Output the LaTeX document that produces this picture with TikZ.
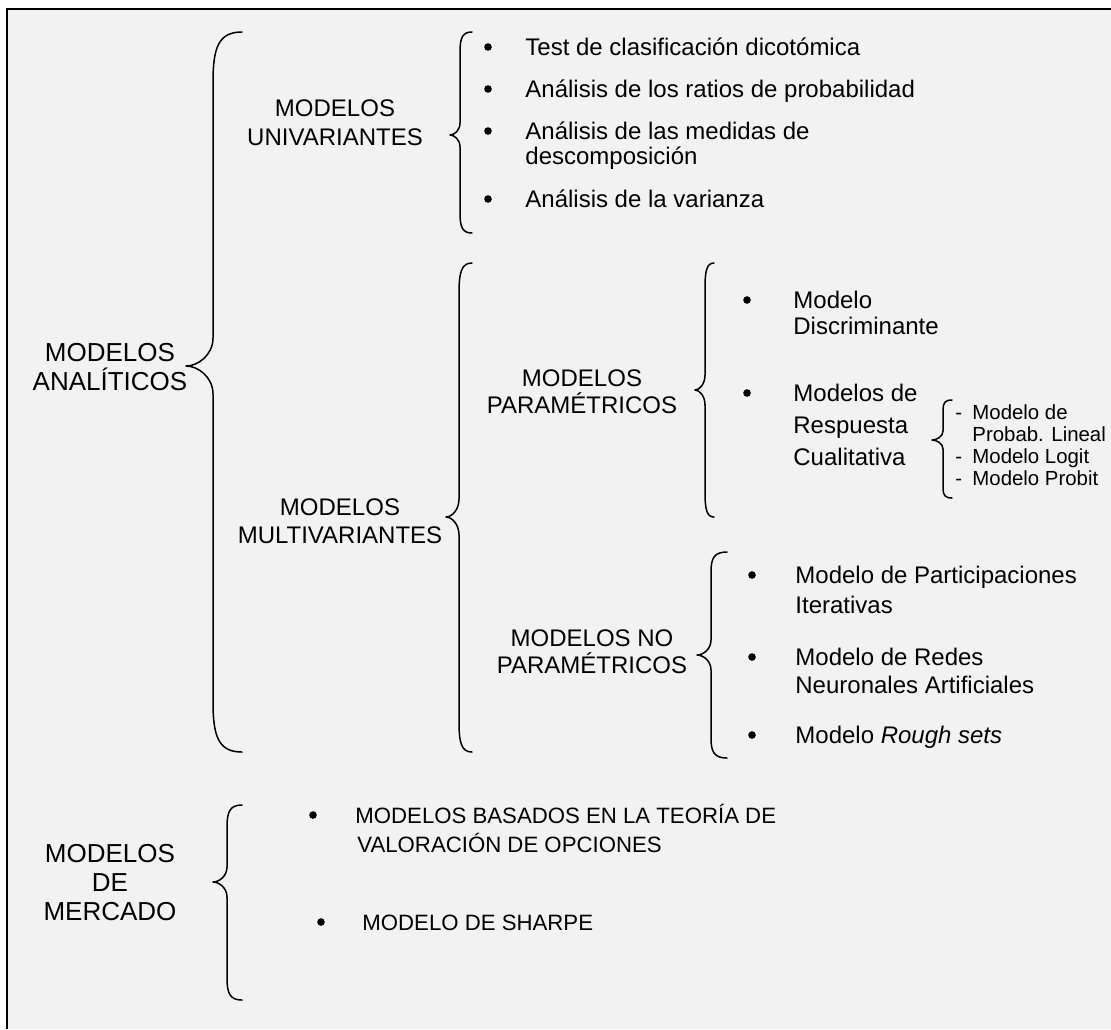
\documentclass[tikz,border=0pt]{standalone}
\usepackage{fontspec}
\setmainfont{Liberation Sans}
\newcommand\bigfs{\fontsize{13}{15}\selectfont}
\newcommand\mainfs{\fontsize{12}{14}\selectfont}
\newcommand\lowfs{\fontsize{11.1}{13}\selectfont}
\newcommand\smallfs{\fontsize{10.2}{12}\selectfont}
% #1 xv, #2 xhook, #3 xtip, #4 ytop, #5 ytip, #6 ybot, #7 curl, #8 tip curl
\newcommand\mybrace[8]{%
  \draw[bracestyle] (#2,#4) .. controls ({#1+0.2*(#2-#1)},#4) and (#1,{#4+0.3*#7}) .. (#1,{#4+#7})
   -- (#1,{#5-#8}) .. controls (#1,{#5-0.4*#8}) and ({#3+0.45*(#1-#3)},#5) .. (#3,#5)
   .. controls ({#3+0.45*(#1-#3)},#5) and (#1,{#5+0.4*#8}) .. (#1,{#5+#8})
   -- (#1,{#6-#7}) .. controls (#1,{#6-0.3*#7}) and ({#1+0.2*(#2-#1)},#6) .. (#2,#6);}
\tikzset{
  toplbl/.style={font=\bigfs, inner sep=0pt, anchor=base},
  lbl/.style={font=\mainfs, inner sep=0pt, anchor=base},
  itm/.style={font=\mainfs, inner sep=0pt, anchor=base west},
  lowitm/.style={font=\lowfs, inner sep=0pt, anchor=base west},
  sml/.style={font=\smallfs, inner sep=0pt, anchor=base west},
  bracestyle/.style={line width=0.75pt, line join=round, line cap=round},
  frameline/.style={line width=1pt},
}
\definecolor{bgray}{HTML}{F2F2F2}
\begin{document}
\begin{tikzpicture}[x=0.5pt,y=-0.5pt]
\useasboundingbox (0,0) rectangle (1111,1029);
\fill[white] (0,0) rectangle (1111,1029);
\fill[bgray] (7,9) rectangle (1111,1029);
\draw[frameline] (7,1029) -- (7,9) -- (1111,9);

% braces
\mybrace{213}{242}{186}{32}{366}{752}{50}{28}
\mybrace{460}{472}{450}{32}{135}{233}{20}{12}
\mybrace{459}{472}{446}{263}{517}{752}{30}{18}
\mybrace{705}{714}{695}{263}{390}{517}{25}{15}
\mybrace{943}{952}{932}{400}{440}{498}{10}{9}
\mybrace{711}{727}{697}{552}{655}{758}{20}{15}
\mybrace{227}{242}{213}{805}{882}{1000}{22}{15}

% left labels
\node[toplbl] (ma1) at (110,361) {MODELOS};
\node[toplbl] (ma2) at (110,390) {ANALÍTICOS};
\node[lbl] (mu1) at (335,116) {MODELOS};
\node[lbl] (mu2) at (335,145) {UNIVARIANTES};
\node[lbl] (mm1) at (340,515) {MODELOS};
\node[lbl] (mm2) at (340,543) {MULTIVARIANTES};
\node[lbl] (mp1) at (582,386) {MODELOS};
\node[lbl] (mp2) at (582,413) {PARAMÉTRICOS};
\node[lbl] (mn1) at (592,646) {MODELOS NO};
\node[lbl] (mn2) at (592,673) {PARAMÉTRICOS};
\node[toplbl] (md1) at (110,862) {MODELOS};
\node[toplbl] (md2) at (110,891) {DE};
\node[toplbl] (md3) at (110,920) {MERCADO};

% univariantes list
\foreach \yy in {47,89,131,199} \fill (488,\yy) circle[radius=3.8];
\node[itm] (u1) at (525,55) {Test de clasificación dicotómica};
\node[itm] (u2) at (525,97) {Análisis de los ratios de probabilidad};
\node[itm] (u3a) at (525,139) {Análisis de las medidas de};
\node[itm] (u3b) at (525,164) {descomposición};
\node[itm] (u4) at (525,207) {Análisis de la varianza};

% parametricos list
\foreach \yy in {300,393} \fill (747,\yy) circle[radius=3.8];
\node[itm] (p1a) at (793,308) {Modelo};
\node[itm] (p1b) at (793,334) {Discriminante};
\node[itm] (p2a) at (793,401) {Modelos de};
\node[itm] (p2b) at (793,433) {Respuesta};
\node[itm] (p2c) at (793,465) {Cualitativa};

% small list
\node[sml] (d1) at (955,419) {-};
\node[sml] (s1a) at (972,419) {Modelo de};
\node[sml] (s1b) at (972,441) {Probab. Lineal};
\node[sml] (d2) at (955,463) {-};
\node[sml] (s2) at (972,463) {Modelo Logit};
\node[sml] (d3) at (955,485) {-};
\node[sml] (s3) at (972,485) {Modelo Probit};

% no parametricos list
\foreach \yy in {575,657,735} \fill (752,\yy) circle[radius=3.8];
\node[itm] (n1a) at (795,583) {Modelo de Participaciones};
\node[itm] (n1b) at (795,613) {Iterativas};
\node[itm] (n2a) at (795,665) {Modelo de Redes};
\node[itm] (n2b) at (795,693) {Neuronales Artificiales};
\node[itm] (n3) at (795,743) {Modelo \textit{Rough sets}};

% mercado list
\fill (313,815) circle[radius=3.8];
\fill (321,922) circle[radius=3.8];
\node[lowitm] (k1a) at (355,823) {MODELOS BASADOS EN LA TEORÍA DE};
\node[lowitm] (k1b) at (357,852) {VALORACIÓN DE OPCIONES};
\node[lowitm] (k2) at (362,930) {MODELO DE SHARPE};
\end{tikzpicture}
\end{document}
